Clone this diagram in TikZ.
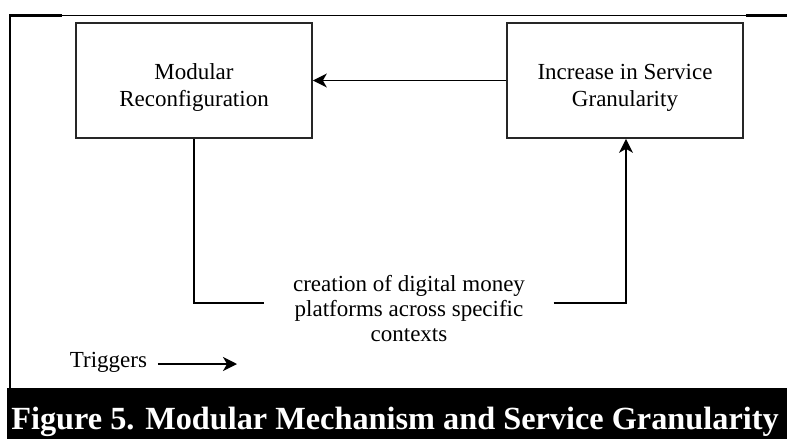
\documentclass[tikz,border=0pt]{standalone}
\usepackage{fontspec}
\setmainfont{Liberation Serif}
\usetikzlibrary{arrows.meta}
\newcommand{\boxstrut}{\rule{0pt}{29pt}}
\begin{document}
\begin{tikzpicture}[x=1pt,y=-1pt,line width=1.5pt,
  box/.style={draw=black!85,line width=1.7pt,minimum width=236pt,minimum height=115pt,
    align=center,font=\fontsize{23}{26}\selectfont},
  arr/.style={-{Stealth[length=14pt,width=14pt,inset=4pt]}}]
\useasboundingbox (0,0) rectangle (787,439);
% frame and caption bar
\fill[black] (7,388) rectangle (787,439);
\draw[line width=1.2pt] (9,15.5) -- (787,15.5);
\draw[line width=2.2pt] (9,15.5) -- (62,15.5);
\draw[line width=2.2pt] (746,15.5) -- (787,15.5);
\draw[line width=2.2pt] (10,15) -- (10,388);
% boxes
\node[box] (mod) at (194,80.5) {\boxstrut Modular\\[1pt]Reconfiguration};
\node[box] (gran) at (625,80.5) {\boxstrut Increase in Service\\[1pt]Granularity};
\draw[arr] (gran.west) -- (mod.east);
\node[align=center,font=\fontsize{23}{25}\selectfont,inner xsep=28pt] (plat) at (409,309)
  {creation of digital money\\platforms across specific\\contexts};
\coordinate (c1) at (194,0);
\coordinate (c2) at (626,0);
\draw (mod.south -| c1) |- ([yshift=6pt]plat.west);
\draw[arr] ([yshift=6pt]plat.east) -| (gran.south -| c2);
% legend
\node[font=\fontsize{23}{26}\selectfont,inner sep=0pt] (trig) at (108.5,362) {Triggers};
\coordinate (trigend) at (237,364);
\draw[arr] (trig.east |- trigend) ++(10,0) coordinate (trigstart) (trigstart) -- (trigend);
\node[text=white,font=\bfseries\fontsize{32.3}{36}\selectfont,anchor=base] (cap) at (395,429)
  {Figure 5. Modular Mechanism and Service Granularity};
\end{tikzpicture}
\end{document}
